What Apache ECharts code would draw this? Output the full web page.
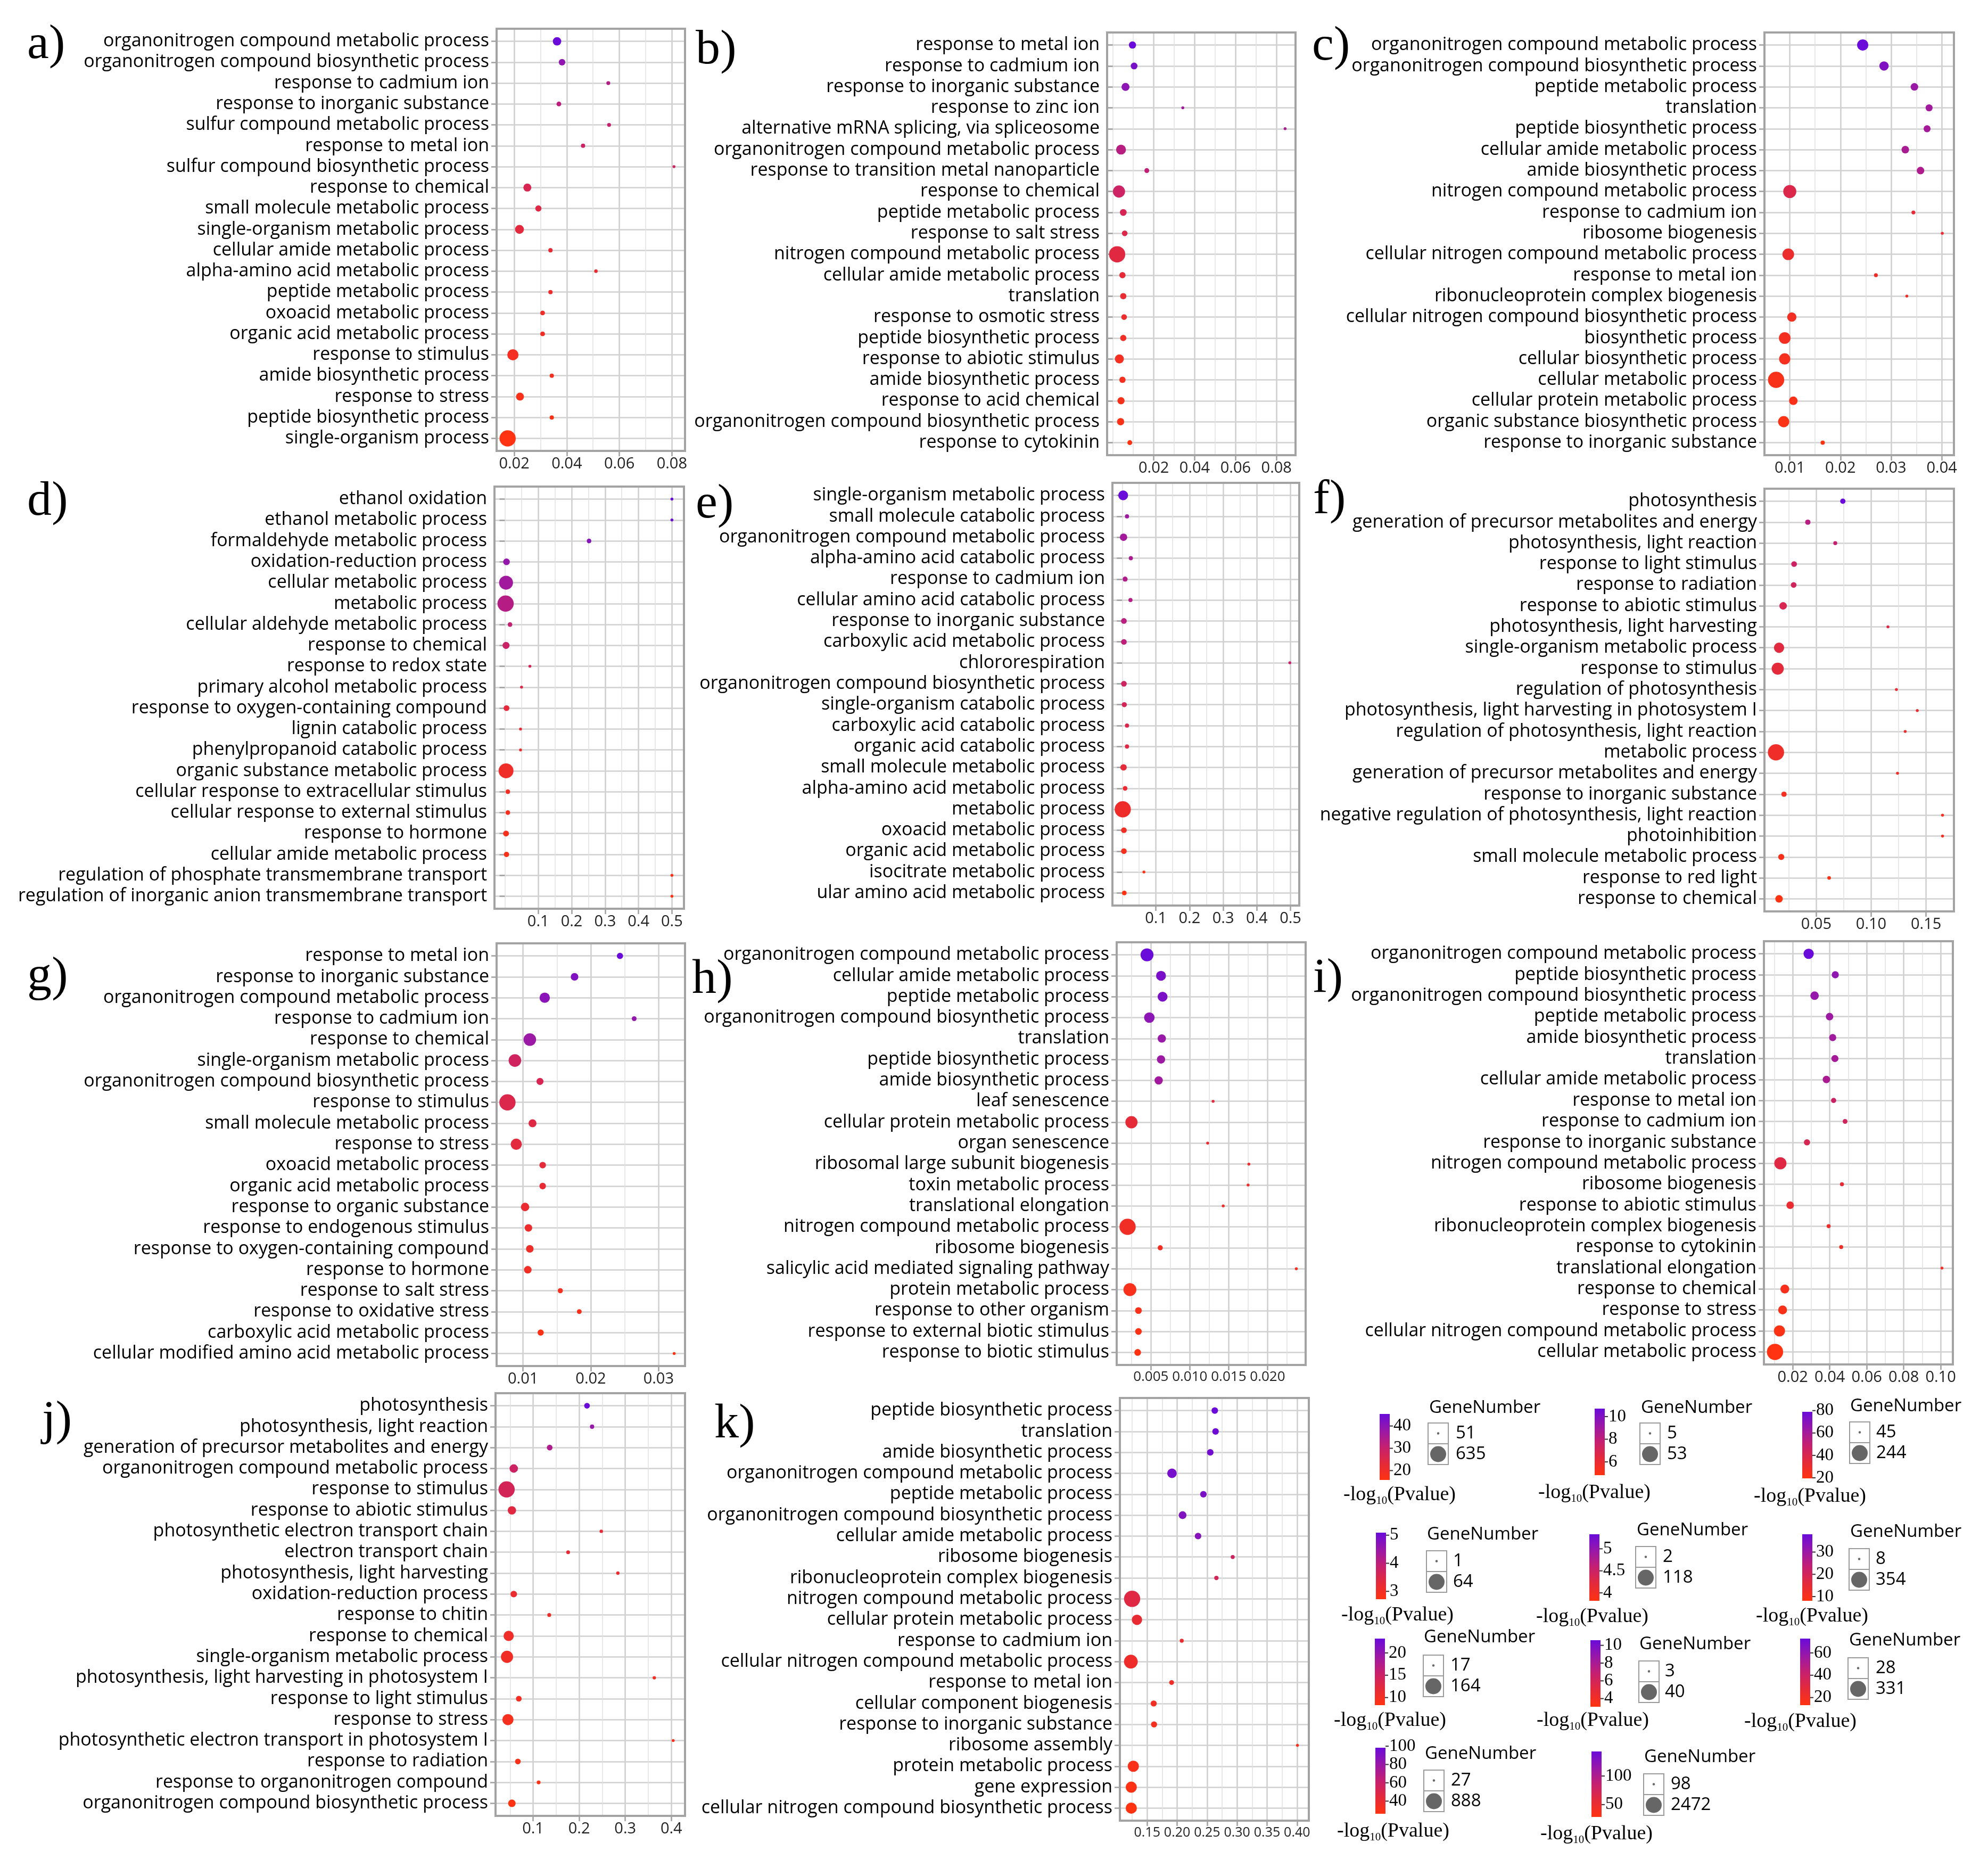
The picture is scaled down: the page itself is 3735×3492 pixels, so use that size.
<!DOCTYPE html>
<html><head><meta charset="utf-8">
<script src="https://cdn.jsdelivr.net/npm/echarts@6/dist/echarts.min.js"></script>
<style>html,body{margin:0;padding:0;background:#fff}#c{width:3735px;height:3492px}</style>
</head><body><div id="c"></div>
<script>
// ---------------- DATA ----------------
const catsA = ["organonitrogen compound metabolic process","organonitrogen compound biosynthetic process","response to cadmium ion","response to inorganic substance","sulfur compound metabolic process","response to metal ion","sulfur compound biosynthetic process","response to chemical","small molecule metabolic process","single-organism metabolic process","cellular amide metabolic process","alpha-amino acid metabolic process","peptide metabolic process","oxoacid metabolic process","organic acid metabolic process","response to stimulus","amide biosynthetic process","response to stress","peptide biosynthetic process","single-organism process"];
const richA = [0.0363,0.0382,0.0558,0.0370,0.0561,0.0462,0.0808,0.0250,0.0292,0.0220,0.0338,0.0511,0.0338,0.0308,0.0308,0.0195,0.0343,0.0222,0.0343,0.0175];
const genesA = [150,95,54,62,54,57,51,135,85,169,57,52,57,62,62,276,57,135,57,635];
const pvalA = [45.4,39.2,33.5,32.1,30.4,28.9,27.6,26.3,24.8,23.6,22.4,21.5,20.7,20.1,19.5,18.9,18.1,17.4,16.6,15.8];
const ticksA = [0.02,0.04,0.06,0.08];
const xRangeA = [0.0133,0.085];
const cbTicksA = [20,30,40];

const catsB = ["response to metal ion","response to cadmium ion","response to inorganic substance","response to zinc ion","alternative mRNA splicing, via spliceosome","organonitrogen compound metabolic process","response to transition metal nanoparticle","response to chemical","peptide metabolic process","response to salt stress","nitrogen compound metabolic process","cellular amide metabolic process","translation","response to osmotic stress","peptide biosynthetic process","response to abiotic stimulus","amide biosynthetic process","response to acid chemical","organonitrogen compound biosynthetic process","response to cytokinin"];
const richB = [0.0096,0.0104,0.0062,0.0342,0.0842,0.0040,0.0166,0.0030,0.0051,0.0058,0.0021,0.0047,0.0051,0.0055,0.0051,0.0032,0.0047,0.0040,0.0038,0.0083];
const genesB = [10,9,12,5,5,18,6,28,9,7,53,8,8,7,8,15,8,10,10,6];
const pvalB = [10.7,10.2,9.6,9.0,8.6,8.2,7.9,7.4,7.0,6.7,6.5,6.2,6.0,5.8,5.6,5.4,5.3,5.1,5.0,4.83];
const ticksB = [0.02,0.04,0.06,0.08];
const xRangeB = [-0.0028,0.0893];
const cbTicksB = [6,8,10];

const catsC = ["organonitrogen compound metabolic process","organonitrogen compound biosynthetic process","peptide metabolic process","translation","peptide biosynthetic process","cellular amide metabolic process","amide biosynthetic process","nitrogen compound metabolic process","response to cadmium ion","ribosome biogenesis","cellular nitrogen compound metabolic process","response to metal ion","ribonucleoprotein complex biogenesis","cellular nitrogen compound biosynthetic process","biosynthetic process","cellular biosynthetic process","cellular metabolic process","cellular protein metabolic process","organic substance biosynthetic process","response to inorganic substance"];
const richC = [0.0244,0.0286,0.0346,0.0375,0.0371,0.0328,0.0358,0.0100,0.0344,0.0401,0.0097,0.0270,0.0331,0.0104,0.0090,0.0090,0.0073,0.0107,0.0088,0.0165];
const genesC = [123,91,69,64,64,69,69,161,46,45,131,46,45,91,131,123,244,80,123,47];
const pvalC = [78.9,72.0,63.5,61.0,60.2,58.4,56.8,38.5,33.2,31.4,30.1,28.6,27.5,26.4,25.3,24.2,23.1,22.0,21.0,19.5];
const ticksC = [0.01,0.02,0.03,0.04];
const xRangeC = [0.0050,0.0424];
const cbTicksC = [20,40,60,80];

const catsD = ["ethanol oxidation","ethanol metabolic process","formaldehyde metabolic process","oxidation-reduction process","cellular metabolic process","metabolic process","cellular aldehyde metabolic process","response to chemical","response to redox state","primary alcohol metabolic process","response to oxygen-containing compound","lignin catabolic process","phenylpropanoid catabolic process","organic substance metabolic process","cellular response to extracellular stimulus","cellular response to external stimulus","response to hormone","cellular amide metabolic process","regulation of phosphate transmembrane transport","regulation of inorganic anion transmembrane transport"];
const richD = [0.500,0.500,0.252,0.0050,0.0036,0.0023,0.0155,0.0036,0.075,0.050,0.0050,0.047,0.047,0.0036,0.0090,0.0090,0.0036,0.0050,0.500,0.500];
const genesD = [1,1,2,6,44,64,2,7,1,1,4,1,1,52,2,2,4,3,1,1];
const pvalD = [5.09,5.05,4.72,4.55,4.38,4.12,3.92,3.80,3.62,3.46,3.32,3.22,3.16,3.07,3.01,2.95,2.90,2.84,2.78,2.72];
const ticksD = [0.1,0.2,0.3,0.4,0.5];
const xRangeD = [-0.031,0.536];
const cbTicksD = [3,4,5];

const catsE = ["single-organism metabolic process","small molecule catabolic process","organonitrogen compound metabolic process","alpha-amino acid catabolic process","response to cadmium ion","cellular amino acid catabolic process","response to inorganic substance","carboxylic acid metabolic process","chlororespiration","organonitrogen compound biosynthetic process","single-organism catabolic process","carboxylic acid catabolic process","organic acid catabolic process","small molecule metabolic process","alpha-amino acid metabolic process","metabolic process","oxoacid metabolic process","organic acid metabolic process","isocitrate metabolic process","ular amino acid metabolic process"];
const richE = [0.0029,0.0143,0.0040,0.0257,0.0086,0.0246,0.0051,0.0051,0.498,0.0051,0.0063,0.0143,0.0143,0.0040,0.0086,0.0017,0.0051,0.0051,0.0646,0.0063];
const genesE = [33,3,15,3,5,3,7,7,2,7,5,3,3,10,4,118,7,7,2,4];
const pvalE = [5.33,4.90,4.86,4.80,4.75,4.71,4.67,4.63,4.55,4.47,4.40,4.31,4.26,4.19,4.12,4.06,4.00,3.95,3.88,3.82];
const ticksE = [0.1,0.2,0.3,0.4,0.5];
const xRangeE = [-0.029,0.526];
const cbTicksE = [4,4.5,5];

const catsF = ["photosynthesis","generation of precursor metabolites and energy","photosynthesis, light reaction","response to light stimulus","response to radiation","response to abiotic stimulus","photosynthesis, light harvesting","single-organism metabolic process","response to stimulus","regulation of photosynthesis","photosynthesis, light harvesting in photosystem I","regulation of photosynthesis, light reaction","metabolic process","generation of precursor metabolites and energy","response to inorganic substance","negative regulation of photosynthesis, light reaction","photoinhibition","small molecule metabolic process","response to red light","response to chemical"];
const richF = [0.0742,0.0423,0.0673,0.0298,0.0294,0.0198,0.1153,0.0161,0.0149,0.1230,0.1420,0.1310,0.0133,0.1240,0.0206,0.1650,0.1650,0.0181,0.0617,0.0161];
const genesF = [19,19,10,23,23,49,8,114,173,8,8,8,354,8,19,8,8,28,9,49];
const pvalF = [38.0,25.4,23.1,21.2,20.3,18.7,17.2,16.3,15.6,14.4,13.8,13.2,12.6,12.1,11.5,11.0,10.5,9.9,9.1,8.1];
const ticksF = [0.05,0.10,0.15];
const xRangeF = [0.0028,0.1754];
const cbTicksF = [10,20,30];

const catsG = ["response to metal ion","response to inorganic substance","organonitrogen compound metabolic process","response to cadmium ion","response to chemical","single-organism metabolic process","organonitrogen compound biosynthetic process","response to stimulus","small molecule metabolic process","response to stress","oxoacid metabolic process","organic acid metabolic process","response to organic substance","response to endogenous stimulus","response to oxygen-containing compound","response to hormone","response to salt stress","response to oxidative stress","carboxylic acid metabolic process","cellular modified amino acid metabolic process"];
const richG = [0.0243,0.0176,0.0132,0.0264,0.0110,0.0088,0.0125,0.0077,0.0114,0.0090,0.0129,0.0129,0.0103,0.0108,0.0110,0.0107,0.0155,0.0183,0.0126,0.0323];
const genesG = [26,35,62,20,94,94,31,164,38,74,28,28,42,35,35,35,21,20,26,17];
const pvalG = [23.2,21.4,20.6,19.8,19.2,14.6,13.6,13.2,12.7,12.3,11.9,11.6,11.2,10.8,10.5,10.1,9.7,9.3,8.9,8.3];
const ticksG = [0.01,0.02,0.03];
const xRangeG = [0.0061,0.0339];
const cbTicksG = [10,15,20];

const catsH = ["organonitrogen compound metabolic process","cellular amide metabolic process","peptide metabolic process","organonitrogen compound biosynthetic process","translation","peptide biosynthetic process","amide biosynthetic process","leaf senescence","cellular protein metabolic process","organ senescence","ribosomal large subunit biogenesis","toxin metabolic process","translational elongation","nitrogen compound metabolic process","ribosome biogenesis","salicylic acid mediated signaling pathway","protein metabolic process","response to other organism","response to external biotic stimulus","response to biotic stimulus"];
const richH = [0.0045,0.0063,0.0065,0.0048,0.0064,0.0063,0.0060,0.0130,0.0025,0.0123,0.0176,0.0175,0.0143,0.0020,0.0062,0.0237,0.0023,0.0034,0.0034,0.0033];
const genesH = [24,13,13,15,9,9,9,3,21,3,3,3,3,40,4,3,24,6,6,6];
const pvalH = [10.58,9.95,9.85,9.2,8.7,8.55,8.35,5.0,4.85,4.65,4.5,4.35,4.2,4.05,3.9,3.75,3.6,3.45,3.27,3.08];
const ticksH = [0.005,0.010,0.015,0.020];
const xRangeH = [0.0006,0.0249];
const cbTicksH = [4,6,8,10];

const catsI = ["organonitrogen compound metabolic process","peptide biosynthetic process","organonitrogen compound biosynthetic process","peptide metabolic process","amide biosynthetic process","translation","cellular amide metabolic process","response to metal ion","response to cadmium ion","response to inorganic substance","nitrogen compound metabolic process","ribosome biogenesis","response to abiotic stimulus","ribonucleoprotein complex biogenesis","response to cytokinin","translational elongation","response to chemical","response to stress","cellular nitrogen compound metabolic process","cellular metabolic process"];
const richI = [0.0286,0.0430,0.0318,0.0399,0.0416,0.0428,0.0382,0.0421,0.0483,0.0277,0.0133,0.0466,0.0186,0.0394,0.0462,0.1007,0.0157,0.0145,0.0128,0.0104];
const genesI = [121,58,81,64,58,58,64,37,34,46,173,30,64,30,30,28,89,89,146,331];
const pvalI = [72.8,60.5,58.4,56.2,55.0,53.8,52.1,40.2,37.5,34.8,30.6,27.4,25.1,23.0,21.2,19.4,17.6,16.1,14.6,13.2];
const ticksI = [0.02,0.04,0.06,0.08,0.10];
const xRangeI = [0.0044,0.1066];
const cbTicksI = [20,40,60];

const catsJ = ["photosynthesis","photosynthesis, light reaction","generation of precursor metabolites and energy","organonitrogen compound metabolic process","response to stimulus","response to abiotic stimulus","photosynthetic electron transport chain","electron transport chain","photosynthesis, light harvesting","oxidation-reduction process","response to chitin","response to chemical","single-organism metabolic process","photosynthesis, light harvesting in photosystem I","response to light stimulus","response to stress","photosynthetic electron transport in photosystem I","response to radiation","response to organonitrogen compound","organonitrogen compound biosynthetic process"];
const richJ = [0.217,0.228,0.136,0.058,0.0425,0.054,0.248,0.176,0.284,0.058,0.135,0.047,0.0434,0.363,0.069,0.0454,0.404,0.067,0.112,0.054];
const genesJ = [64,36,64,173,888,173,28,31,28,92,31,287,439,28,64,359,27,64,31,130];
const pvalJ = [98.3,80.5,71.6,58.0,54.2,46.5,44.1,42.3,40.8,39.3,38.0,36.8,35.6,34.5,33.4,32.3,31.0,29.8,28.0,26.2];
const ticksJ = [0.1,0.2,0.3,0.4];
const xRangeJ = [0.0185,0.4297];
const cbTicksJ = [40,60,80,100];

const catsK = ["peptide biosynthetic process","translation","amide biosynthetic process","organonitrogen compound metabolic process","peptide metabolic process","organonitrogen compound biosynthetic process","cellular amide metabolic process","ribosome biogenesis","ribonucleoprotein complex biogenesis","nitrogen compound metabolic process","cellular protein metabolic process","response to cadmium ion","cellular nitrogen compound metabolic process","response to metal ion","cellular component biogenesis","response to inorganic substance","ribosome assembly","protein metabolic process","gene expression","cellular nitrogen compound biosynthetic process"];
const richK = [0.2628,0.2641,0.2553,0.1914,0.2438,0.2091,0.2349,0.2927,0.2655,0.1249,0.1330,0.2077,0.1228,0.1908,0.1609,0.1615,0.4007,0.1269,0.1235,0.1235];
const genesK = [272,272,272,672,272,417,272,113,128,2472,838,113,1665,146,232,232,98,1012,1012,1012];
const pvalK = [143,140.5,137.8,135.2,131.6,128.4,124.9,76.5,72.8,62.0,52.4,49.3,46.8,44.1,41.7,39.2,36.5,33.8,31.0,28.4];
const ticksK = [0.15,0.20,0.25,0.30,0.35,0.40];
const xRangeK = [0.1045,0.4197];
const cbTicksK = [50,100];

const panelLetters = ["a)","b)","c)","d)","e)","f)","g)","h)","i)","j)","k)"];

// ---------------- PANEL SETUP ----------------
const P = [
  {cats:catsA,rich:richA,genes:genesA,pval:pvalA,ticks:ticksA,xr:xRangeA,cb:cbTicksA,dec:2,step:0.02},
  {cats:catsB,rich:richB,genes:genesB,pval:pvalB,ticks:ticksB,xr:xRangeB,cb:cbTicksB,dec:2,step:0.02},
  {cats:catsC,rich:richC,genes:genesC,pval:pvalC,ticks:ticksC,xr:xRangeC,cb:cbTicksC,dec:2,step:0.01},
  {cats:catsD,rich:richD,genes:genesD,pval:pvalD,ticks:ticksD,xr:xRangeD,cb:cbTicksD,dec:1,step:0.1},
  {cats:catsE,rich:richE,genes:genesE,pval:pvalE,ticks:ticksE,xr:xRangeE,cb:cbTicksE,dec:1,step:0.1},
  {cats:catsF,rich:richF,genes:genesF,pval:pvalF,ticks:ticksF,xr:xRangeF,cb:cbTicksF,dec:2,step:0.05},
  {cats:catsG,rich:richG,genes:genesG,pval:pvalG,ticks:ticksG,xr:xRangeG,cb:cbTicksG,dec:2,step:0.01},
  {cats:catsH,rich:richH,genes:genesH,pval:pvalH,ticks:ticksH,xr:xRangeH,cb:cbTicksH,dec:3,step:0.005},
  {cats:catsI,rich:richI,genes:genesI,pval:pvalI,ticks:ticksI,xr:xRangeI,cb:cbTicksI,dec:2,step:0.02},
  {cats:catsJ,rich:richJ,genes:genesJ,pval:pvalJ,ticks:ticksJ,xr:xRangeJ,cb:cbTicksJ,dec:1,step:0.1},
  {cats:catsK,rich:richK,genes:genesK,pval:pvalK,ticks:ticksK,xr:xRangeK,cb:cbTicksK,dec:2,step:0.05}
];

// layout (px)
const boxes = [[933,54,1287,847],[2080,61,2434,855],[3315,61,3671,855],[929,914,1285,1707],[2090,907,2441,1701],[3315,918,3671,1712],[933,1772,1287,2566],[2098,1770,2453,2564],[3314,1768,3669,2563],[931,2617,1287,3411],[2104,2626,2459,3420]];
const letterPos = [[51,85],[1307,95],[2465,88],[51,943],[1307,948],[2467,940],[51,1836],[1300,1841],[2467,1839],[79,2670],[1342,2676]];
const xLabelFont = [29,29,29,29,29,29,29,26,29,29,25];
// barX, barTop, barBottom, titleX, titleMidY, boxX, boxTop, labelX, logX, logMidY
const legendLayout = [
  [2592,2656,2780,2685,2645,2683,2673,2735,2524,2808],
  [2996,2646,2771,3083,2645,3081,2673,3132,2890,2804],
  [3386,2652,2777,3476,2642,3475,2671,3525,3295,2811],
  [2585,2879,3004,2681,2883,2680,2913,2730,2520,3034],
  [2986,2882,3007,3075,2875,3073,2905,3124,2886,3037],
  [3386,2882,3007,3476,2878,3474,2909,3524,3299,3036],
  [2583,3078,3203,2675,3076,2674,3109,2725,2506,3232],
  [2988,3081,3206,3080,3089,3079,3120,3128,2887,3232],
  [3382,3078,3203,3474,3082,3472,3114,3524,3277,3234],
  [2584,3283,3407,2677,3295,2675,3325,2726,2512,3440],
  [2990,3290,3413,3089,3301,3088,3332,3139,2894,3445]
];

const ramp = ['#ff3311','#e42a3a','#c52070','#9818a8','#6a0bd9'];
const SANS = "'Open Sans','Noto Sans',sans-serif";
const SERIF = "'Liberation Serif','DejaVu Serif',serif";
const sizeOf = (n, lo, hi) => 5.5 + 25 * Math.sqrt((n - lo) / (hi - lo));

const option = {animation:false, backgroundColor:'#fff', grid:[], xAxis:[], yAxis:[], series:[], visualMap:[], graphic:[]};
const G = option.graphic;

P.forEach((p, i) => {
  const [x1,y1,x2,y2] = boxes[i];
  const n = p.cats.length;
  const gmin = Math.min(...p.genes), gmax = Math.max(...p.genes);
  const pmin = Math.min(...p.pval), pmax = Math.max(...p.pval);
  const idx = p.cats.map((c,k)=>k);
  option.grid.push({left:x1, top:y1, width:x2-x1, height:y2-y1, show:false, containLabel:false});
  // minor grid axis
  option.xAxis.push({gridIndex:i, type:'value', min:p.xr[0], max:p.xr[1], minInterval:p.step/2, maxInterval:p.step/2,
    position:'top', z:0, axisLine:{show:false}, axisTick:{show:false}, axisLabel:{show:false},
    splitLine:{show:true, lineStyle:{color:'#e0e0e0', width:1.5}}});
  // major axis
  option.xAxis.push({gridIndex:i, type:'value', min:p.xr[0], max:p.xr[1], minInterval:p.step, maxInterval:p.step,
    position:'bottom', z:1, axisLine:{show:false},
    axisTick:{show:true, length:10, customValues:p.ticks, lineStyle:{color:'#a0a0a0', width:2.5}},
    axisLabel:{show:true, customValues:p.ticks, showMinLabel:true, showMaxLabel:true, hideOverlap:false,
      margin:10, fontSize:xLabelFont[i], fontFamily:SANS, color:'#222',
      formatter:(v)=>{ for (const t of p.ticks) { if (Math.abs(v-t) < 1e-9) return t.toFixed(p.dec); } return ''; }},
    splitLine:{show:true, lineStyle:{color:'#d0d0d0', width:2.5}}});
  option.yAxis.push({gridIndex:i, type:'value', inverse:true, min:-0.6, max:n-0.4, minInterval:1, maxInterval:1,
    axisLine:{show:false},
    axisTick:{show:true, length:10, customValues:idx, lineStyle:{color:'#a0a0a0', width:2.5}},
    axisLabel:{show:true, customValues:idx, showMinLabel:true, showMaxLabel:true, margin:14, fontSize:34, fontFamily:SANS, color:'#000',
      formatter:(v)=>{ const r = Math.round(v); return (Math.abs(v-r) < 1e-6 && r >= 0 && r < n) ? p.cats[r] : ''; }},
    splitLine:{show:true, lineStyle:{color:'#d0d0d0', width:2.5}}});
  option.series.push({type:'scatter', xAxisIndex:2*i+1, yAxisIndex:i, silent:true, clip:false, z:3,
    symbol:'circle', symbolSize:(v)=>sizeOf(v[3], gmin, gmax), itemStyle:{opacity:1},
    data:p.cats.map((c,k)=>[p.rich[k], k, p.pval[k], p.genes[k]])});
  option.visualMap.push({type:'continuous', show:false, seriesIndex:i, dimension:2, min:pmin, max:pmax, inRange:{color:ramp}});

  // box border
  G.push({type:'rect', silent:true, z:50, shape:{x:x1, y:y1, width:x2-x1, height:y2-y1}, style:{fill:'none', stroke:'#a3a3a3', lineWidth:4}});
  // panel letter
  G.push({type:'text', silent:true, z:60, x:letterPos[i][0], y:letterPos[i][1],
    style:{text:panelLetters[i], fontSize:92, fontFamily:SERIF, fill:'#000', align:'left', verticalAlign:'middle'}});

  // legend
  const [bx, bt, bb, tx, ty, sx, st, lx, gx, gy] = legendLayout[i];
  const bw = 19, bh = bb - bt;
  G.push({type:'rect', silent:true, shape:{x:bx, y:bt, width:bw, height:bh},
    style:{fill:new echarts.graphic.LinearGradient(0,1,0,0, ramp.map((c,k)=>({offset:k/(ramp.length-1), color:c})))}});
  p.cb.forEach(v => {
    const y = bb - (v - pmin) / (pmax - pmin) * bh;
    G.push({type:'line', silent:true, shape:{x1:bx+bw, y1:y, x2:bx+bw+6, y2:y}, style:{stroke:'#333', lineWidth:2}});
    G.push({type:'text', silent:true, x:bx+bw+7, y:y, style:{text:String(v), fontSize:33, fontFamily:SERIF, fill:'#000', align:'left', verticalAlign:'middle'}});
  });
  G.push({type:'text', silent:true, x:tx, y:ty, style:{text:'GeneNumber', fontSize:33, fontFamily:SANS, fill:'#000', align:'left', verticalAlign:'middle'}});
  G.push({type:'rect', silent:true, shape:{x:sx, y:st, width:38, height:39}, style:{fill:'#fff', stroke:'#9a9a9a', lineWidth:2}});
  G.push({type:'rect', silent:true, shape:{x:sx, y:st+39, width:38, height:39}, style:{fill:'#fff', stroke:'#9a9a9a', lineWidth:2}});
  G.push({type:'circle', silent:true, shape:{cx:sx+19, cy:st+19.5, r:2.2}, style:{fill:'#666'}});
  G.push({type:'circle', silent:true, shape:{cx:sx+19, cy:st+58.5, r:15}, style:{fill:'#666'}});
  G.push({type:'text', silent:true, x:lx, y:st+19.5, style:{text:String(gmin), fontSize:33, fontFamily:SANS, fill:'#000', align:'left', verticalAlign:'middle'}});
  G.push({type:'text', silent:true, x:lx, y:st+58.5, style:{text:String(gmax), fontSize:33, fontFamily:SANS, fill:'#000', align:'left', verticalAlign:'middle'}});
  G.push({type:'text', silent:true, x:gx, y:gy, style:{text:'{a|-log}{b|10}{a|(Pvalue)}', align:'left', verticalAlign:'middle',
    rich:{a:{fontSize:38, fontFamily:SERIF, fill:'#000', lineHeight:44}, b:{fontSize:21, fontFamily:SERIF, fill:'#000', lineHeight:14, verticalAlign:'bottom'}}}});
});

const chart = echarts.init(document.getElementById('c'), null, {renderer:'canvas'});
chart.setOption(option);
</script>
</body></html>
